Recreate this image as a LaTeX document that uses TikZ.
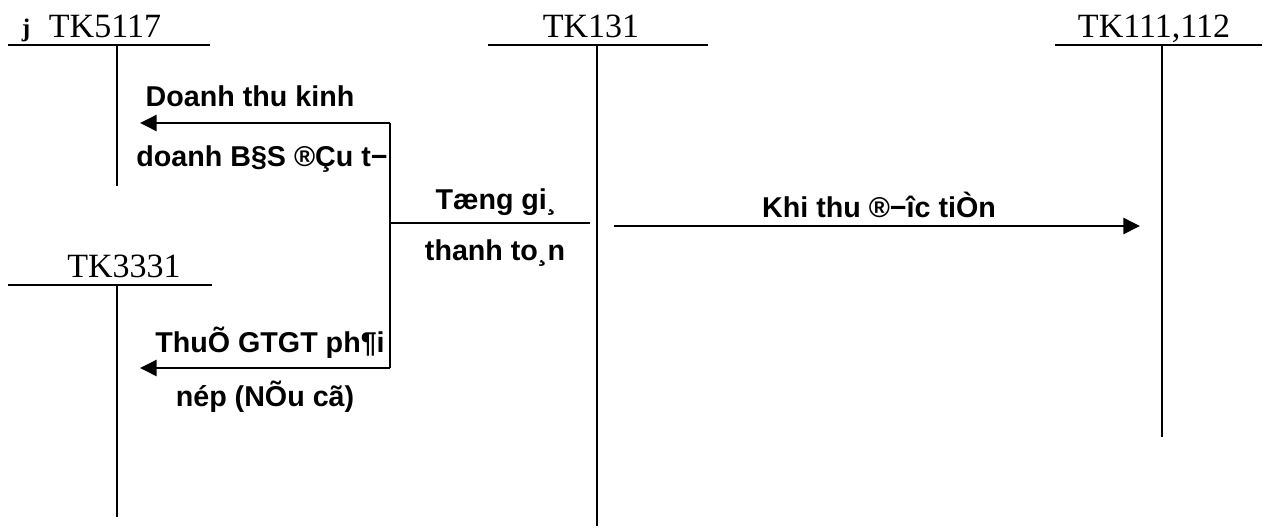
\documentclass[tikz,border=0pt]{standalone}
\usepackage{fontspec}
\setmainfont{Liberation Serif}
\newfontfamily\labfont{Liberation Sans}
\usetikzlibrary{arrows.meta}
\begin{document}
\begin{tikzpicture}[x=0.75pt,y=-0.75pt,
  acct/.style={line width=2.2pt},
  bar/.style={line width=2.2pt},
  arr/.style={line width=1.9pt,-{Triangle[length=12.5pt,width=12pt]}},
  tk/.style={font=\fontsize{25.5}{30}\selectfont, anchor=base, inner sep=0pt},
  lab/.style={font=\labfont\bfseries\fontsize{21.5}{26}\selectfont, anchor=base, inner sep=0pt}]
\useasboundingbox (0,0) rectangle (1266,529);
% account titles
\node[font=\bfseries\fontsize{19}{22}\selectfont, anchor=base, inner sep=0pt] (j) at (26,36) {j};
\node[tk] (t5117) at (105,37) {TK5117};
\node[tk] (t131) at (591,37) {TK131};
\node[tk] (t111) at (1154,37) {TK111,112};
\node[tk] (t3331) at (124,277) {TK3331};
% T-accounts
\draw[acct] (8,45) -- (210,45);
\draw[acct] (117,45) -- (117,186);
\draw[acct] (488,45) -- (708,45);
\draw[acct] (597,45) -- (597,526);
\draw[acct] (1055,45) -- (1262,45);
\draw[acct] (1162,45) -- (1162,437);
\draw[acct] (8,285) -- (212,285);
\draw[acct] (117,285) -- (117,517);
% bracket and arrows
\coordinate (b1) at (390,123);
\coordinate (b2) at (390,368);
\coordinate (b3) at (390,223);
\coordinate (l1) at (140,123);
\coordinate (l2) at (140,368);
\coordinate (m1) at (590,223);
\coordinate (r0) at (614,226);
\coordinate (r1) at (1140,226);
\draw[bar] (b1) -- (b2);
\draw[arr] (b1) -- (l1);
\draw[arr] (b2) -- (l2);
\draw[bar] (b3) -- (m1);
\draw[arr] (r0) -- (r1);
% labels
\node[lab] (d1) at (250,106) {Doanh thu kinh};
\node[lab] (d2) at (262,166) {doanh B§S ®Çu t−};
\node[lab] (g1) at (496,209) {Tæng gi¸};
\node[lab] (g2) at (495,260) {thanh to¸n};
\node[lab] (k1) at (879,217) {Khi thu ®−îc tiÒn};
\node[lab] (v1) at (270,352) {ThuÕ GTGT ph¶i};
\node[lab] (v2) at (265,406) {nép (NÕu cã)};
\end{tikzpicture}
\end{document}
